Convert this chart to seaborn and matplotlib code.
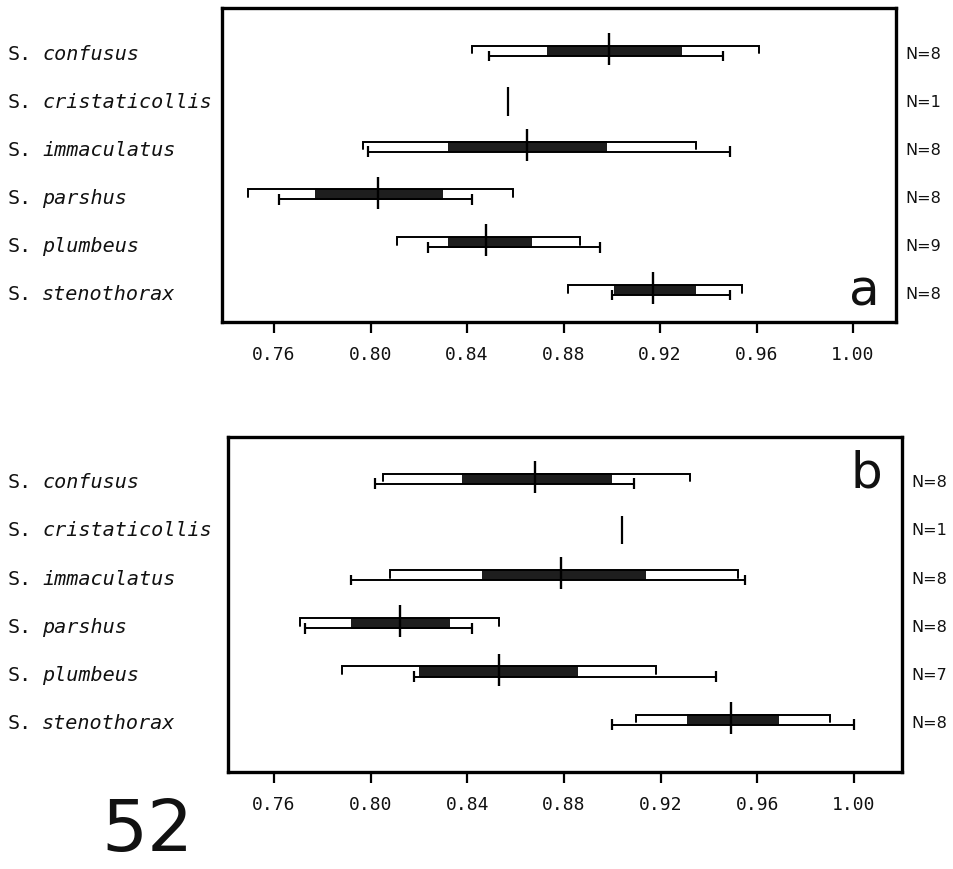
import numpy as np
import pandas as pd
import matplotlib
matplotlib.use("Agg")
import matplotlib.pyplot as plt
import seaborn as sns
from matplotlib import transforms

nan = np.nan
species = ["confusus", "cristaticollis", "immaculatus", "parshus", "plumbeus", "stenothorax"]
tick_values = [0.76, 0.80, 0.84, 0.88, 0.92, 0.96, 1.00]
tick_labels = ["0.76", "0.80", "0.84", "0.88", "0.92", "0.96", "1.00"]

# panel a
a_n = [8, 1, 8, 8, 9, 8]
a_mean = [0.899, 0.857, 0.865, 0.803, 0.848, 0.917]
a_sd_lo = [0.842, nan, 0.797, 0.749, 0.811, 0.882]
a_sd_hi = [0.961, nan, 0.935, 0.859, 0.887, 0.954]
a_min = [0.849, nan, 0.799, 0.762, 0.824, 0.900]
a_max = [0.946, nan, 0.949, 0.842, 0.895, 0.949]
a_ci_lo = [0.873, nan, 0.832, 0.777, 0.832, 0.901]
a_ci_hi = [0.929, nan, 0.898, 0.830, 0.867, 0.935]

# panel b
b_n = [8, 1, 8, 8, 7, 8]
b_mean = [0.868, 0.904, 0.879, 0.812, 0.853, 0.949]
b_sd_lo = [0.805, nan, 0.808, 0.771, 0.788, 0.910]
b_sd_hi = [0.932, nan, 0.952, 0.853, 0.918, 0.990]
b_min = [0.802, nan, 0.792, 0.773, 0.818, 0.900]
b_max = [0.909, nan, 0.955, 0.842, 0.943, 1.000]
b_ci_lo = [0.838, nan, 0.846, 0.792, 0.820, 0.931]
b_ci_hi = [0.900, nan, 0.914, 0.833, 0.886, 0.969]

sns.set_theme(style="white")
plt.rcParams["font.family"] = ["DejaVu Sans"]

W, H = 954, 869
fig = plt.figure(figsize=(W / 100, H / 100), dpi=100)


def px_axes(left, top, right, bottom):
    return fig.add_axes([left / W, 1 - bottom / H, (right - left) / W, (bottom - top) / H])


ax_a = px_axes(222, 8, 896, 322)
ax_b = px_axes(228, 437, 902, 772)

DARK = "#1e1e1e"
LW = 1.4


def draw_panel(ax, df, xlim, ylim, letter, letter_xy):
    ax.set_xlim(*xlim)
    ax.set_ylim(*ylim)
    for i, r in df.iterrows():
        y = i
        if np.isnan(r["sd_lo"]):
            ax.vlines(r["mean"], y - 0.32, y + 0.27, color="black", lw=1.6)
            continue
        # SD box outline (top line with hooks)
        ax.plot([r["sd_lo"], r["sd_lo"], r["sd_hi"], r["sd_hi"]],
                [y - 0.03, y - 0.19, y - 0.19, y - 0.03], color="black", lw=LW,
                solid_joinstyle="miter")
        # range line with end ticks
        ax.hlines(y + 0.02, r["min"], r["max"], color="black", lw=LW)
        ax.vlines([r["min"], r["max"]], y - 0.09, y + 0.13, color="black", lw=1.6)
        # dark interval bar
        ax.barh(y - 0.085, r["ci_hi"] - r["ci_lo"], left=r["ci_lo"], height=0.22,
                color=DARK, edgecolor=DARK, lw=0)
    sub = df.dropna(subset=["sd_lo"]).copy()
    sub["ym"] = sub.index - 0.125
    sns.scatterplot(data=sub, x="mean", y="ym", marker="|", s=560, color="black",
                    linewidth=1.7, ax=ax, legend=False, zorder=5)
    ax.set_xlabel("")
    ax.set_ylabel("")
    ax.set_yticks([])
    ax.set_xticks(tick_values)
    ax.set_xticklabels(tick_labels, fontfamily="DejaVu Sans Mono", fontsize=13, color="#111111")
    ax.tick_params(axis="x", direction="out", length=8, width=1.6, pad=9, color="black", bottom=True)
    for s in ax.spines.values():
        s.set_visible(True)
        s.set_color("black")
        s.set_linewidth(2.4)
    # species labels
    tr = transforms.blended_transform_factory(fig.transFigure, ax.transData)
    for i, sp in enumerate(species):
        ax.text(8 / W, i, "S.", transform=tr, fontfamily="DejaVu Sans Mono", fontsize=14.5,
                va="center", ha="left", color="#111111")
        ax.text(8 / W + 34 / W, i, sp, transform=tr, fontfamily="DejaVu Sans Mono",
                fontstyle="italic", fontsize=14.5, va="center", ha="left", color="#111111")
    # N labels
    tr2 = transforms.blended_transform_factory(ax.transAxes, ax.transData)
    for i, n in enumerate(df["n"]):
        ax.annotate(f"N={n}", xy=(1, i), xycoords=tr2, xytext=(7, 0), textcoords="offset points",
                    fontsize=11.5, va="center", ha="left", color="#111111", annotation_clip=False)
    fig.text(letter_xy[0] / W, 1 - letter_xy[1] / H, letter, fontsize=36, ha="center",
             va="center", color="#111111")


df_a = pd.DataFrame({"n": a_n, "mean": a_mean, "sd_lo": a_sd_lo, "sd_hi": a_sd_hi,
                     "min": a_min, "max": a_max, "ci_lo": a_ci_lo, "ci_hi": a_ci_hi})
df_b = pd.DataFrame({"n": b_n, "mean": b_mean, "sd_lo": b_sd_lo, "sd_hi": b_sd_hi,
                     "min": b_min, "max": b_max, "ci_lo": b_ci_lo, "ci_hi": b_ci_hi})

draw_panel(ax_a, df_a, (0.7384, 1.0178), (5.58, -0.98), "a", (864, 292))
draw_panel(ax_b, df_b, (0.7410, 1.0199), (6.0, -0.95), "b", (866, 474))

fig.text(147 / W, 1 - 831 / H, "52", fontsize=52, ha="center", va="center", color="#111111")

fig.savefig("out.png", dpi=100)
